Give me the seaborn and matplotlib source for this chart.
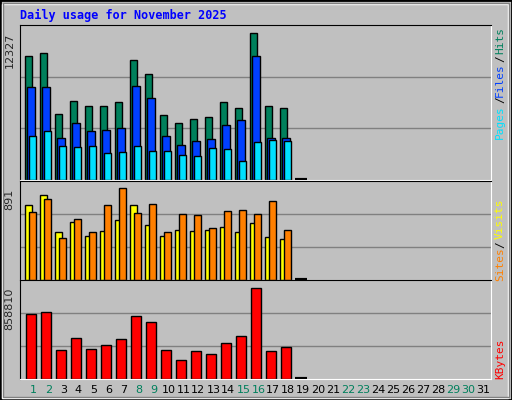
import numpy as np
import matplotlib
matplotlib.use("Agg")
import matplotlib.pyplot as plt
import seaborn as sns
from matplotlib.patches import Rectangle

# Daily values (day 19 = 0)
days = list(range(1, 20))
hits = [10403, 10654, 5550, 6638, 6219, 6219, 6554, 10068, 8897, 5466, 4797, 5132, 5299, 6554, 6052, 12327, 6219, 6052, 0]
files = [7809, 7809, 3542, 4797, 4128, 4211, 4379, 7893, 6889, 3709, 2956, 3291, 3458, 4630, 5048, 10403, 3542, 3542, 0]
pages = [3709, 4128, 2873, 2789, 2873, 2287, 2371, 2873, 2454, 2454, 2120, 2036, 2705, 2622, 1618, 3207, 3375, 3291, 0]
visits = [726, 823, 463, 561, 424, 473, 580, 726, 531, 424, 483, 473, 483, 512, 463, 551, 415, 395, 0]
sites = [658, 784, 405, 590, 463, 726, 891, 648, 735, 463, 638, 629, 502, 667, 677, 638, 765, 483, 0]
kbytes = [613000, 632000, 274000, 387000, 283000, 321000, 377000, 595000, 538000, 274000,
          179000, 264000, 236000, 340000, 406000, 858810, 264000, 302000, 0]
weekend = [1, 2, 8, 9, 15, 16, 22, 23, 29, 30]

sns.set_style("white")
plt.rcParams['font.family'] = ['DejaVu Sans Mono', 'DejaVu Sans']

BG = '#c0c0c0'
fig = plt.figure(figsize=(5.12, 4.0), dpi=100, facecolor=BG)
W, H = 512, 400

# outer frame
fig.patches.append(Rectangle((0, 0), 1, 1, transform=fig.transFigure, fill=False, ec='black', lw=2))
fig.patches.append(Rectangle((2/W, 2/H), 1-6/W, 1-6/H, transform=fig.transFigure, fill=False, ec='white', lw=1))
fig.patches.append(Rectangle((3/W, 3/H), 1-6/W, 1-6/H, transform=fig.transFigure, fill=False, ec='#808080', lw=1))


def mkax(top, bottom):
    ax = fig.add_axes([20/W, 1-bottom/H, (491-20)/W, (bottom-top)/H])
    ax.set_facecolor(BG)
    ax.set_xlim(0.11, 31.51)
    ax.set_xticks([])
    ax.set_yticks([])
    for s in ['left', 'top']:
        ax.spines[s].set_color('black')
    for s in ['right', 'bottom']:
        ax.spines[s].set_color('white')
    for f in (1/3, 2/3):
        ax.plot([0, 1], [f, f], color='#808080', lw=1, transform=ax.transAxes, zorder=0)
    return ax


def zero_dash(ax, vals):
    for day, v in zip(days, vals):
        if v == 0:
            ax.plot([day - 0.53, day + 0.27], [0, 0], color='black', lw=3, zorder=3,
                    solid_capstyle='butt')


d = np.array(days)
bk = dict(edgecolor='black', linewidth=1, align='edge', zorder=2)

ax1 = mkax(25, 180)
ax1.set_ylim(0, 12327 / (147.3 / 155))
ax1.bar(d - 0.53, hits, width=0.47, color='#00805c', **bk)
ax1.bar(d - 0.40, files, width=0.49, color='#0040ff', **bk)
ax1.bar(d - 0.27, pages, width=0.47, color='#00e0ff', **bk)
zero_dash(ax1, hits)
ax1.text(-0.012, 12327, '12327', transform=ax1.get_yaxis_transform(), rotation=90,
         ha='right', va='top', fontsize=8, family='DejaVu Sans')

ax2 = mkax(181, 280)
ax2.set_ylim(0, 891 / (91.7 / 99))
ax2.bar(d - 0.53, visits, width=0.47, color='#ffff00', **bk)
ax2.bar(d - 0.27, sites, width=0.47, color='#ff8000', **bk)
zero_dash(ax2, sites)
ax2.text(-0.012, 891, '891', transform=ax2.get_yaxis_transform(), rotation=90,
         ha='right', va='top', fontsize=8, family='DejaVu Sans')

ax3 = mkax(280, 379)
ax3.set_ylim(0, 858810 / (91 / 99))
ax3.bar(d - 0.47, kbytes, width=0.67, color='#ff0000', **bk)
zero_dash(ax3, kbytes)
ax3.text(-0.012, 858810, '858810', transform=ax3.get_yaxis_transform(), rotation=90,
         ha='right', va='top', fontsize=8, family='DejaVu Sans')

# day labels
for i in range(1, 32):
    ax3.text(i, -0.06, str(i), transform=ax3.get_xaxis_transform(), ha='center', va='top',
             fontsize=8, family='DejaVu Sans', color='#00805c' if i in weekend else 'black')

fig.text(20/W, 1-15/H, 'Daily usage for November 2025', color='#0000ff', fontsize=8.5,
         fontweight='bold', ha='left', va='center')


def side(y, s, c):
    fig.text(500/W, 1-y/H, s, color=c, rotation=90, ha='center', va='center', fontsize=8)


side(40, 'Hits', '#00805c'); side(59, '/', 'black'); side(80, 'Files', '#0040ff')
side(100, '/', 'black'); side(122, 'Pages', '#00e0ff')
side(219, 'Visits', '#ffff00'); side(245, '/', 'black'); side(264, 'Sites', '#ff8000')
side(359, 'KBytes', '#ff0000')

fig.savefig('out.png', dpi=100, facecolor=BG)
